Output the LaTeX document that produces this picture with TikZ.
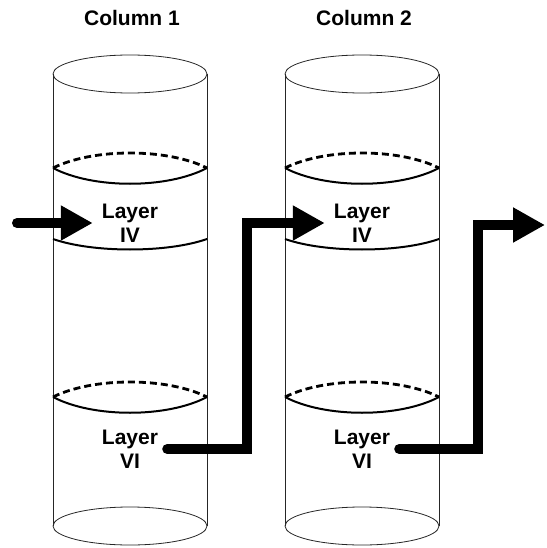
\documentclass[tikz,border=0pt]{standalone}
\usepackage{fontspec}
\setmainfont{Liberation Sans}
\usetikzlibrary{arrows.meta, positioning}

\begin{document}
\begin{tikzpicture}[x=1pt, y=-1pt,
    outline/.style={draw=black!85, line width=0.8pt},
    rim/.style={line width=2pt},
    hidden/.style={line width=2.8pt, dash pattern=on 7pt off 4pt},
    title/.style={font=\fontsize{21}{25}\selectfont\bfseries},
    layer/.style={align=center, inner sep=9pt, font=\fontsize{21}{24}\selectfont\bfseries},
    flow/.style={line width=10pt, line cap=round, line join=miter, -{Triangle[length=32pt, width=33pt]}}
]
    \useasboundingbox (0,0) rectangle (546,548);

    \node[title] (t1) at (132,18) {Column 1};
    \node[title] (t2) at (364,18) {Column 2};

    % column 1
    \draw[outline] (130,74) ellipse (77 and 19);
    \draw[outline] (130,526) ellipse (77 and 19);
    \draw[outline] (53,74) -- (53,526) (207,74) -- (207,526);
    \draw[hidden] (53,168) .. controls (93,148) and (167,148) .. (207,168);
    \draw[rim] (53,168) .. controls (93,189) and (167,189) .. (207,168);
    \draw[rim] (53,239) .. controls (93,253) and (167,253) .. (207,239);
    \draw[hidden] (53,397) .. controls (93,377) and (167,377) .. (207,397);
    \draw[rim] (53,397) .. controls (93,418) and (167,418) .. (207,397);

    % column 2
    \draw[outline] (362,74) ellipse (77 and 19);
    \draw[outline] (362,526) ellipse (77 and 19);
    \draw[outline] (285,74) -- (285,526) (439,74) -- (439,526);
    \draw[hidden] (285,168) .. controls (325,148) and (399,148) .. (439,168);
    \draw[rim] (285,168) .. controls (325,189) and (399,189) .. (439,168);
    \draw[rim] (285,239) .. controls (325,253) and (399,253) .. (439,239);
    \draw[hidden] (285,397) .. controls (325,377) and (399,377) .. (439,397);
    \draw[rim] (285,397) .. controls (325,418) and (399,418) .. (439,397);

    \node[layer] (l4a) at (130,223) {Layer\\IV};
    \node[layer] (l6a) at (130,449) {Layer\\VI};
    \node[layer] (l4b) at (362,223) {Layer\\IV};
    \node[layer] (l6b) at (362,449) {Layer\\VI};

    \coordinate (src) at (17,223);
    \coordinate (j1) at (247,340);
    \coordinate (j2) at (478,340);
    \coordinate (out) at (545,225);

    \draw[flow] (src) -- (l4a.west);
    \draw[flow] (l6a.east) -| (j1) |- (l4b.west);
    \draw[flow] (l6b.east) -| (j2) |- (out);
\end{tikzpicture}
\end{document}
